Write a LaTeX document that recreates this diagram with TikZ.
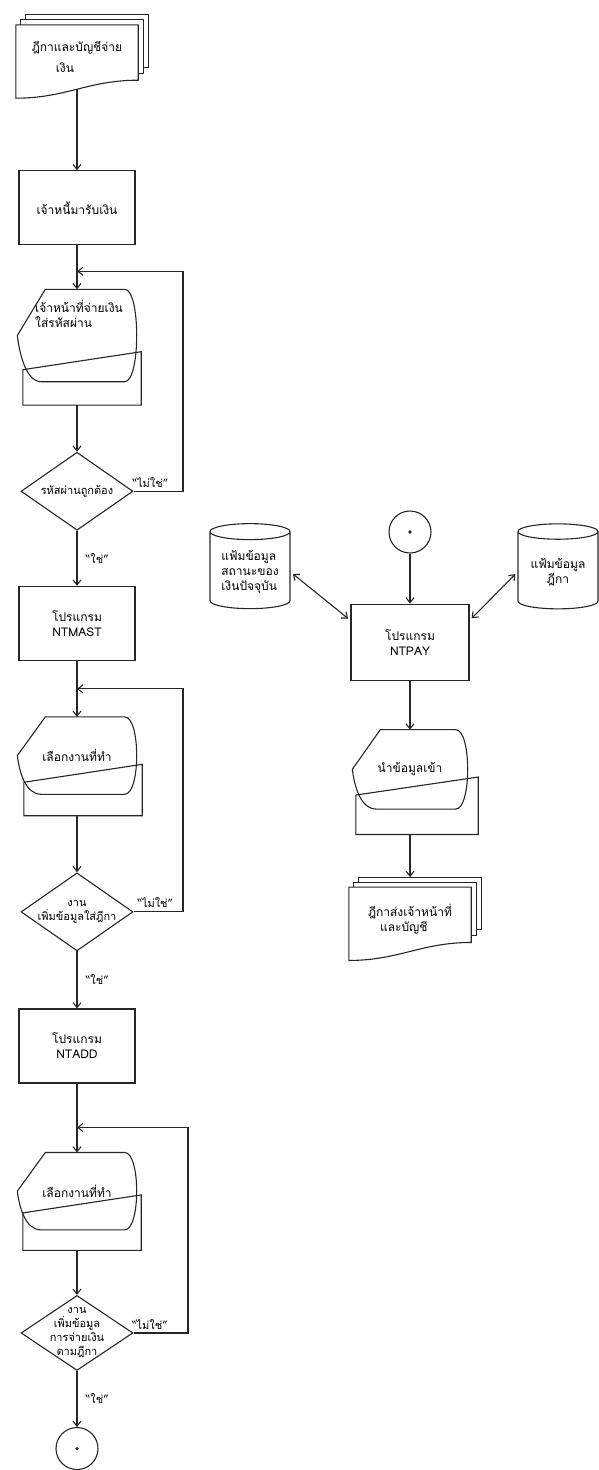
\documentclass[tikz,border=0pt]{standalone}
\usepackage{fontspec}
\setmainfont{Loma}[Script=Thai]
\usetikzlibrary{arrows.meta, positioning, shapes.geometric}

\begin{document}
\begin{tikzpicture}[
		x=1pt, y=1pt,
		every node/.style={font=\fontsize{12}{15}\selectfont},
		line/.style={line width=1.1pt, draw=black!85},
		arr/.style={line, -{Straight Barb[length=5pt,width=8pt]}},
		biarr/.style={line, {Straight Barb[length=5pt,width=8pt]}-{Straight Barb[length=5pt,width=8pt]}},
		proc/.style={draw=black!85, line width=1.1pt, minimum width=116pt, minimum height=74pt, align=center},
		decide/.style={draw=black!85, line width=1.1pt, diamond, inner sep=0pt, minimum width=112pt, minimum height=78pt},
		conn/.style={draw=black!85, line width=1.1pt, circle, minimum size=42pt,
			path picture={\fill[black!85] (path picture bounding box.center) circle (1.8pt);}},
		dfile/.style={draw=black!85, line width=1.1pt, cylinder, shape border rotate=90, aspect=0.25,
			minimum width=80pt, minimum height=85pt, align=left},
		disp/.style={minimum width=119pt, align=left,
			append after command={\pgfextra{\draw[line]
				(\tikzlastnode.west) -- ([xshift=28pt]\tikzlastnode.north west)
				-- ([xshift=-12pt]\tikzlastnode.north east)
				.. controls ([xshift=4pt]\tikzlastnode.north east) and ([xshift=4pt]\tikzlastnode.south east)
				.. ([xshift=-12pt]\tikzlastnode.south east)
				-- ([xshift=24pt]\tikzlastnode.south west)
				.. controls ([xshift=8pt]\tikzlastnode.south west) and ([xshift=2pt,yshift=-16pt]\tikzlastnode.west)
				.. (\tikzlastnode.west);}}},
		kbd/.style={minimum width=118pt,
			append after command={\pgfextra{\draw[line]
				([yshift=-18pt]\tikzlastnode.north west) -- (\tikzlastnode.north east)
				-- (\tikzlastnode.south east) -- (\tikzlastnode.south west) -- cycle;}}},
		mdoc/.style={minimum width=122pt, minimum height=64pt, align=left,
			append after command={\pgfextra{
				\draw[line] (\tikzlastnode.north west) -- (\tikzlastnode.north east)
				-- ([yshift=9pt]\tikzlastnode.south east)
				.. controls ([xshift=-50pt,yshift=9pt]\tikzlastnode.south east) and ([xshift=50pt,yshift=-9pt]\tikzlastnode.south west)
				.. ([yshift=-9pt]\tikzlastnode.south west) -- cycle;
				\draw[line] ([xshift=5pt]\tikzlastnode.north west) -- ([shift={(5pt,5pt)}]\tikzlastnode.north west)
				-- ([shift={(5pt,5pt)}]\tikzlastnode.north east)
				-- ([shift={(5pt,16pt)}]\tikzlastnode.south east) -- ([yshift=16pt]\tikzlastnode.south east);
				\draw[line] ([shift={(10pt,5pt)}]\tikzlastnode.north west) -- ([shift={(10pt,10pt)}]\tikzlastnode.north west)
				-- ([shift={(10pt,10pt)}]\tikzlastnode.north east)
				-- ([shift={(10pt,22pt)}]\tikzlastnode.south east) -- ([shift={(5pt,22pt)}]\tikzlastnode.south east);}}},
		lbl/.style={font=\fontsize{11}{12}\selectfont},
		every label/.style={align=center, font=\fontsize{11}{14}\selectfont}
		]
		\useasboundingbox (0,0) rectangle (599,-1470);
		% left column
		\node[mdoc] (bill) at (77,-57) {ฎีกาและบัญชีจ่าย\\[6pt]\hspace*{24pt}เงิน};
		\node[proc, below=81pt of bill] (creditor) {เจ้าหนี้มารับเงิน};
		\coordinate[below=26pt of creditor] (j1);
		\coordinate[right=106pt of j1] (r1);
		\node[disp, minimum height=92pt, below=44pt of creditor] (pwdshow) {\hspace*{4pt}เจ้าหน้าที่จ่ายเงิน\\\hspace*{4pt}ใส่รหัสผ่าน\\[28pt]\mbox{}};
		\node[kbd, minimum height=53pt, below=-30pt of pwdshow, xshift=5pt] (pwdkey) {};
		\node[decide, below=70pt of pwdshow, label=center:{รหัสผ่านถูกต้อง}] (pwdok) {};
		\node[proc, below=55pt of pwdok] (ntmast) {โปรแกรม\\NTMAST};
		\coordinate[below=28pt of ntmast] (j2);
		\coordinate[right=106pt of j2] (r2);
		\node[disp, minimum height=77pt, below=56pt of ntmast] (jobshow1) {เลือกงานที่ทำ};
		\node[kbd, minimum height=51pt, below=-30pt of jobshow1, xshift=6pt] (jobkey1) {};
		\node[decide, below=78pt of jobshow1, label=center:{งาน\\เพิ่มข้อมูลใส่ฎีกา}] (addjob) {};
		\node[proc, below=57pt of addjob] (ntadd) {โปรแกรม\\NTADD};
		\coordinate[below=44pt of ntadd] (j3);
		\coordinate[right=111pt of j3] (r3);
		\node[disp, minimum height=77pt, below=69pt of ntadd] (jobshow2) {เลือกงานที่ทำ};
		\node[kbd, minimum height=55pt, below=-35pt of jobshow2, xshift=5pt] (jobkey2) {};
		\node[decide, minimum height=75pt, below=65pt of jobshow2, label=center:{งาน\\เพิ่มข้อมูล\\การจ่ายเงิน\\ตามฎีกา}] (payjob) {};
		\node[conn, below=56pt of payjob] (out) {};
		% right column
		\node[conn] (in) at (410,-532) {};
		\node[proc, minimum width=118pt, minimum height=76pt, below=50pt of in] (ntpay) {โปรแกรม\\NTPAY};
		\node[dfile] (status) at (250,-572) {แฟ้มข้อมูล\\สถานะของ\\เงินปัจจุบัน};
		\node[dfile, align=center] (billfile) at (558,-572) {แฟ้มข้อมูล\\ฎีกา};
		\node[disp, minimum width=115pt, minimum height=79pt, below=49pt of ntpay] (entry) {นำข้อมูลเข้า};
		\node[kbd, minimum width=122pt, minimum height=57pt, below=-32pt of entry, xshift=7pt] (entrykey) {};
		\node[mdoc, below=78pt of entry] (sent) {ฎีกาส่งเจ้าหน้าที่\\\hspace*{12pt}และบัญชี};

		\draw[arr] (bill) -- (creditor);
		\draw[line] (creditor) -- (j1);
		\draw[arr] (j1) -- (pwdshow);
		\draw[arr] (pwdkey.south -| pwdok.north) -- (pwdok);
		\draw[arr] (pwdok.east) -| node[lbl, above, pos=0.17] {``ไม่ใช่''} (r1) -- (j1);
		\draw[arr] (pwdok) -- node[lbl, right=5pt] {``ใช่''} (ntmast);
		\draw[line] (ntmast) -- (j2);
		\draw[arr] (j2) -- (jobshow1);
		\draw[arr] (jobkey1.south -| addjob.north) -- (addjob);
		\draw[arr] (addjob.east) -| node[lbl, above, pos=0.22] {``ไม่ใช่''} (r2) -- (j2);
		\draw[arr] (addjob) -- node[lbl, right=5pt] {``ใช่''} (ntadd);
		\draw[line] (ntadd) -- (j3);
		\draw[arr] (j3) -- (jobshow2);
		\draw[arr] (jobkey2.south -| payjob.north) -- (payjob);
		\draw[arr] (payjob.east) -| node[lbl, above, pos=0.15] {``ไม่ใช่''} (r3) -- (j3);
		\draw[arr] (payjob) -- node[lbl, right=5pt] {``ใช่''} (out);

		\draw[arr] (in) -- (ntpay);
		\draw[biarr, shorten <=3pt, shorten >=3pt] (status.east) -- (ntpay.160);
		\draw[biarr, shorten <=3pt, shorten >=3pt] (ntpay.20) -- (billfile.west);
		\draw[arr] (ntpay) -- (entry);
		\draw[arr, shorten >=10pt] (entrykey.south -| sent.north) -- (sent.north);
	\end{tikzpicture}
\end{document}
